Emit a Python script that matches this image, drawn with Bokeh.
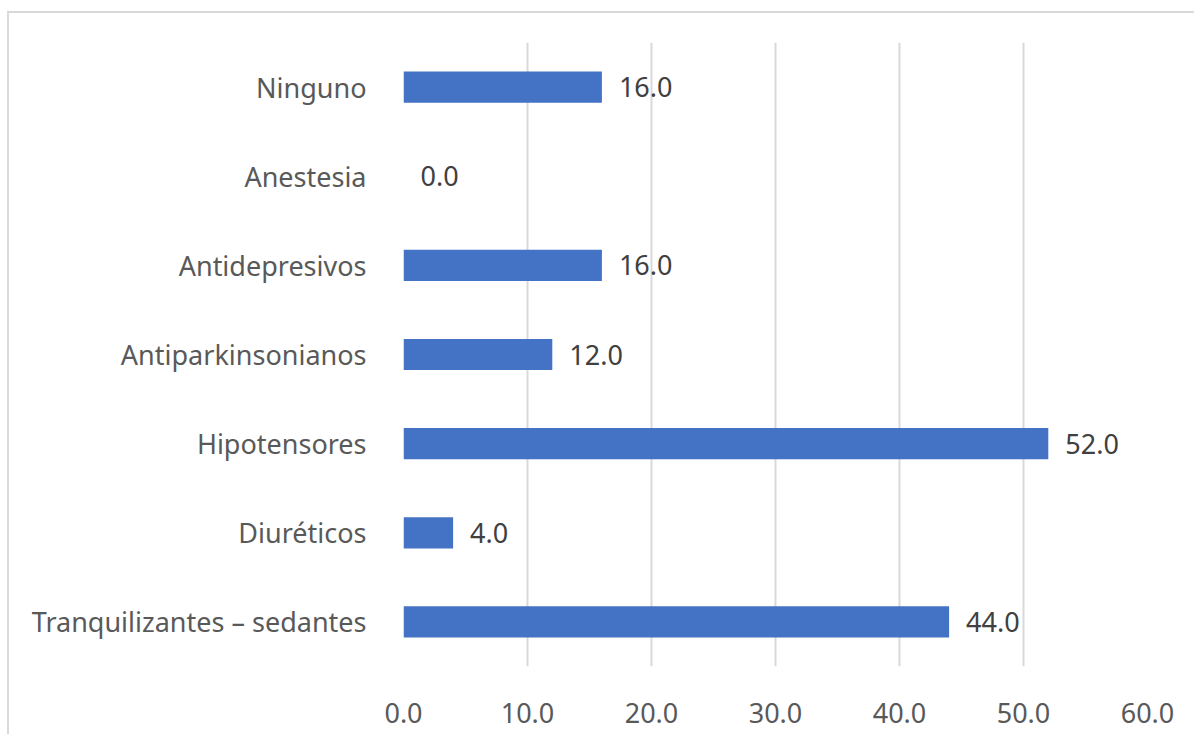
from bokeh.plotting import figure
from bokeh.models import ColumnDataSource, FactorRange, Range1d, FixedTicker, LabelSet, CustomJSTickFormatter
from bokeh.core.properties import value
from bokeh.embed import file_html
from bokeh.resources import INLINE

# Medication groups, listed top to bottom as they appear on the chart
categories = [
    "Ninguno",
    "Anestesia",
    "Antidepresivos",
    "Antiparkinsonianos",
    "Hipotensores",
    "Diuréticos",
    "Tranquilizantes – sedantes",
]
percentages = [16.0, 0.0, 16.0, 12.0, 52.0, 4.0, 44.0]
x_ticks = [0, 10, 20, 30, 40, 50, 60]

FONT = "Noto Sans"
FONT_SIZE = "27px"
BAR_COLOR = "#4472C4"
GRID_COLOR = "#D9D9D9"
AXIS_TEXT = "#595959"
LABEL_TEXT = "#404040"

source = ColumnDataSource(data=dict(
    cat=categories,
    val=percentages,
    label=[f"{v:.1f}" for v in percentages],
))

p = figure(
    width=1187, height=723,
    y_range=FactorRange(factors=list(reversed(categories))),
    x_range=Range1d(0, 60),
    output_backend="svg",
    toolbar_location=None,
    min_border_left=394, min_border_right=49,
    min_border_top=29, min_border_bottom=70,
)
p.styles = {
    "margin-left": "7px",
    "margin-top": "11px",
    "border-left": "2px solid #D9D9D9",
    "border-top": "2px solid #D9D9D9",
}

p.hbar(y="cat", right="val", left=0, height=0.35, source=source,
       fill_color=BAR_COLOR, line_color=None)

labels = LabelSet(x="val", y="cat", text="label", source=source,
                  x_offset=17, text_align="left", text_baseline="middle",
                  text_font=value(FONT), text_font_size=FONT_SIZE,
                  text_color=LABEL_TEXT)
p.add_layout(labels)

p.outline_line_color = None
p.background_fill_color = "white"
p.border_fill_color = "white"

p.ygrid.grid_line_color = None
p.xgrid.grid_line_color = GRID_COLOR
p.xgrid.grid_line_width = 2
p.xaxis.ticker = FixedTicker(ticks=x_ticks)
p.xaxis.formatter = CustomJSTickFormatter(code="return tick.toFixed(1);")

for ax in (p.xaxis[0], p.yaxis[0]):
    ax.axis_line_color = None
    ax.major_tick_line_color = None
    ax.minor_tick_line_color = None
    ax.major_label_text_font = FONT
    ax.major_label_text_font_size = FONT_SIZE
    ax.major_label_text_color = AXIS_TEXT

p.xaxis.major_label_standoff = 30
p.yaxis.major_label_standoff = 31

open("out.html", "w").write(file_html(p, INLINE))
